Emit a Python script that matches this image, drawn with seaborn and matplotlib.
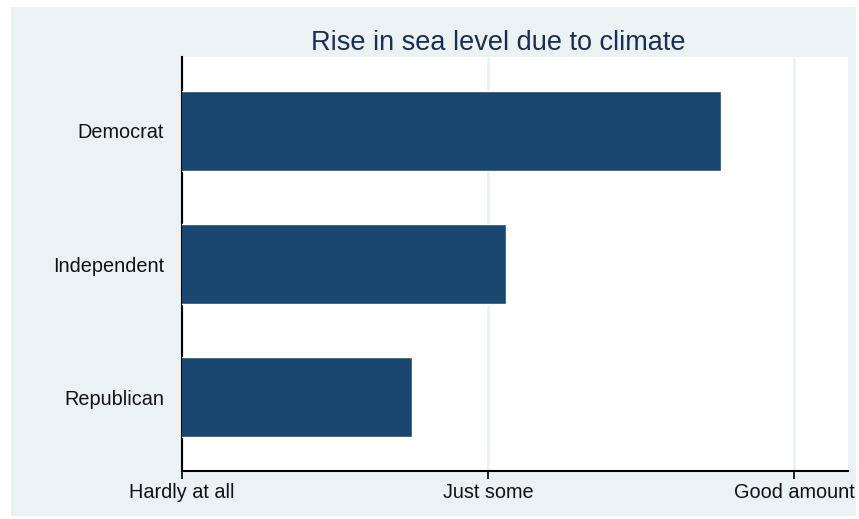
import matplotlib
matplotlib.use("Agg")
import matplotlib.pyplot as plt
import matplotlib.patches as mpatches
import seaborn as sns
import pandas as pd

# -------------------------------
# data
# -------------------------------
parties = ["Democrat", "Independent", "Republican"]
mean_concern = [2.76, 2.06, 1.75]
tick_values = [1, 2, 3]
tick_labels = ["Hardly at all", "Just some", "Good amount"]

df = pd.DataFrame({"party": parties, "concern": mean_concern})

sns.set_theme(style="white")
plt.rcParams["font.family"] = ["Liberation Sans", "DejaVu Sans"]

bg = "#eaf2f3"
navy = "#1a476f"

fig = plt.figure(figsize=(8.59, 5.19), dpi=100, facecolor="white")
# light outer panel like Stata's s2color scheme
fig.patches.append(mpatches.Rectangle((11 / 859, 3 / 519), 845 / 859, 509 / 519,
                                      transform=fig.transFigure, facecolor=bg,
                                      edgecolor="none", zorder=-5))
ax = fig.add_axes([182 / 859, 48 / 519, 666 / 859, 414 / 519])
ax.set_facecolor("white")

sns.barplot(data=df, x="concern", y="party", orient="h", color=navy,
            saturation=1, width=0.6, ax=ax, zorder=3)

ax.set_xlim(1, 3.176)
ax.set_ylim(2.555, -0.555)
ax.set_xticks(tick_values)
ax.set_xticklabels(tick_labels, fontsize=14.3, color="#111111")
ax.tick_params(axis="x", bottom=True, length=6, width=1.2, color="black",
               direction="out", pad=3)
ax.tick_params(axis="y", left=False, length=0, pad=13, labelsize=14.3,
               labelcolor="#111111")
ax.set_xlabel("")
ax.set_ylabel("")

ax.grid(axis="x", color=bg, linewidth=1.8, zorder=1)
ax.set_axisbelow(True)
for side in ["top", "right"]:
    ax.spines[side].set_visible(False)
for side in ["left", "bottom"]:
    ax.spines[side].set_color("black")
    ax.spines[side].set_linewidth(1.5)

fig.text(498 / 859, 1 - 43 / 519, "Rise in sea level due to climate",
         ha="center", va="center", fontsize=19.5, color="#1c2d52")

fig.savefig("out.png", dpi=100, facecolor="white")
